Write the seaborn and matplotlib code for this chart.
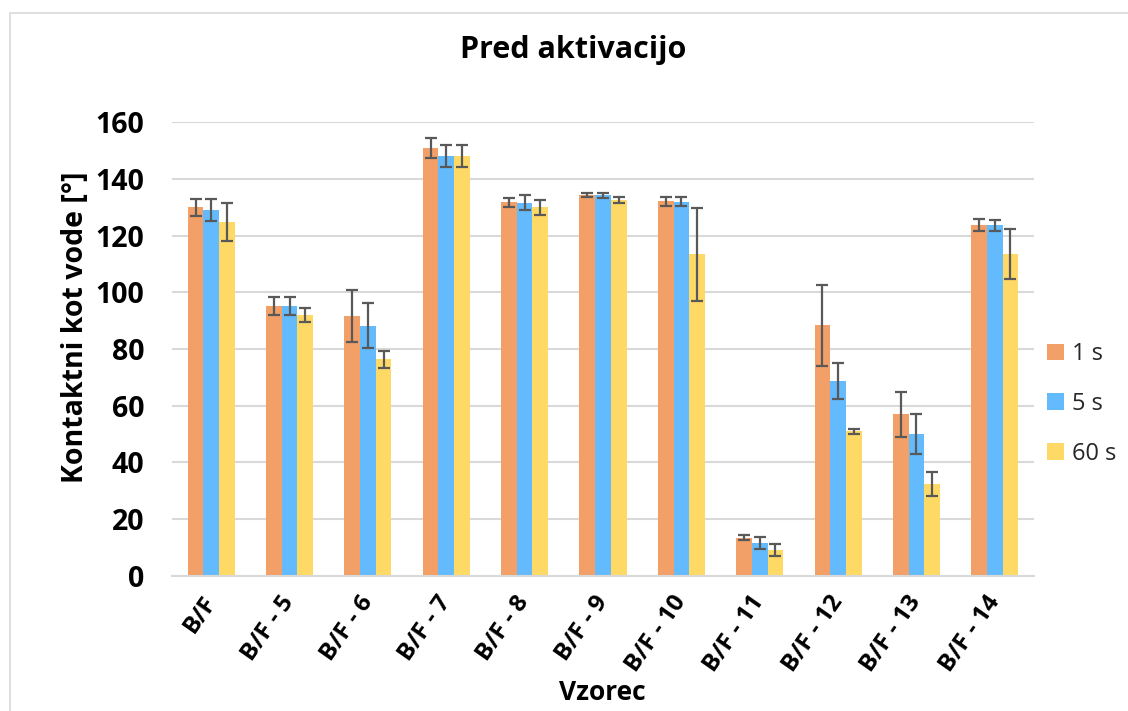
import matplotlib
matplotlib.use("Agg")
import matplotlib.pyplot as plt
from matplotlib.patches import Rectangle
import seaborn as sns
import pandas as pd
import numpy as np

# Sample names and contact-angle measurements (mean and standard deviation)
categories = ['B/F', 'B/F - 5', 'B/F - 6', 'B/F - 7', 'B/F - 8', 'B/F - 9',
              'B/F - 10', 'B/F - 11', 'B/F - 12', 'B/F - 13', 'B/F - 14']
series_names = ['1 s', '5 s', '60 s']

angle_1s = [130.0, 95.2, 91.6, 150.9, 131.8, 134.4, 132.1, 13.4, 88.3, 56.9, 123.7]
angle_5s = [129.0, 95.2, 88.2, 148.1, 131.6, 134.2, 132.0, 11.6, 68.8, 50.0, 123.6]
angle_60s = [124.8, 92.0, 76.4, 148.1, 130.0, 132.6, 113.5, 9.1, 50.9, 32.4, 113.5]

sd_1s = [3.0, 3.2, 9.2, 3.6, 1.6, 0.8, 1.6, 0.9, 14.4, 8.0, 2.0]
sd_5s = [4.0, 3.2, 8.0, 3.8, 2.6, 0.8, 1.6, 2.2, 6.4, 6.9, 2.0]
sd_60s = [6.7, 2.6, 3.0, 3.9, 2.7, 1.0, 16.4, 2.2, 0.8, 4.1, 8.7]

yticks = [0, 20, 40, 60, 80, 100, 120, 140, 160]

colors = ['#F2A067', '#63BBFE', '#FFD966']
grid_col = '#D9D9D9'
err_col = '#595959'

df = pd.DataFrame({
    'Vzorec': categories * 3,
    'kot': angle_1s + angle_5s + angle_60s,
    'cas': [s for s in series_names for _ in categories],
})
errors = [sd_1s, sd_5s, sd_60s]

sns.set_theme(style='white')
plt.rcParams['font.family'] = ['Open Sans', 'DejaVu Sans']

fig = plt.figure(figsize=(11.28, 7.11), dpi=100)
ax = fig.add_axes([172 / 1128, 1 - 575.7 / 711, 862 / 1128, 453.4 / 711])

sns.barplot(data=df, x='Vzorec', y='kot', hue='cas', order=categories,
            hue_order=series_names, palette=colors, width=0.6,
            errorbar=None, saturation=1, linewidth=0, ax=ax)

# Standard deviation whiskers on each bar
for container, err in zip(ax.containers, errors):
    xs = [p.get_x() + p.get_width() / 2 for p in container.patches]
    ys = [p.get_height() for p in container.patches]
    ax.errorbar(xs, ys, yerr=err, fmt='none', ecolor=err_col,
                elinewidth=1.6, capsize=4.5, capthick=1.6, zorder=5)

ax.set_ylim(0, 160)
ax.set_yticks(yticks)
ax.set_xlim(-0.5, len(categories) - 0.5)
ax.yaxis.grid(True, color=grid_col, linewidth=1.5)
ax.set_axisbelow(True)
for side in ['left', 'right', 'top']:
    ax.spines[side].set_visible(False)
ax.spines['bottom'].set_color(grid_col)
ax.spines['bottom'].set_linewidth(1.5)

ax.tick_params(axis='y', length=0, pad=20, labelsize=20.5, labelcolor='black')
ax.tick_params(axis='x', length=0, pad=16, labelsize=17.5, labelcolor='black')
for lab in ax.get_yticklabels():
    lab.set_fontweight('bold')
for lab in ax.get_xticklabels():
    lab.set_fontweight('bold')
    lab.set_rotation(55)
    lab.set_ha('right')
    lab.set_va('center')
    lab.set_rotation_mode('anchor')

ax.set_ylabel('Kontaktni kot vode [°]', fontsize=20.5, fontweight='bold', color='black')
ax.yaxis.set_label_coords(-0.1125, 0.5485)
ax.yaxis.label.set_va('center')
ax.set_xlabel('Vzorec', fontsize=19, fontweight='bold', color='black')
ax.xaxis.set_label_coords(0.4988, -0.2587)
ax.xaxis.label.set_va('center')

ax.set_title('Pred aktivacijo', fontsize=22, fontweight='bold', color='black',
             x=0.465, y=1.1418, va='center')

handles, labels = ax.get_legend_handles_labels()
ax.legend(handles, labels, loc='center left',
          bbox_to_anchor=(1047 / 1128, 1 - 404 / 711),
          bbox_transform=fig.transFigure, frameon=False, fontsize=17,
          handlelength=0.7, handleheight=0.7, handletextpad=0.35,
          labelspacing=1.1, borderpad=0, borderaxespad=0)

# Chart area outline
fig.patches.append(Rectangle((10 / 1128, -0.02), 1.0, (711 - 13) / 711 + 0.02,
                             transform=fig.transFigure, fill=False,
                             edgecolor=grid_col, linewidth=1.2))

fig.savefig('out.png', dpi=100, facecolor='white')
